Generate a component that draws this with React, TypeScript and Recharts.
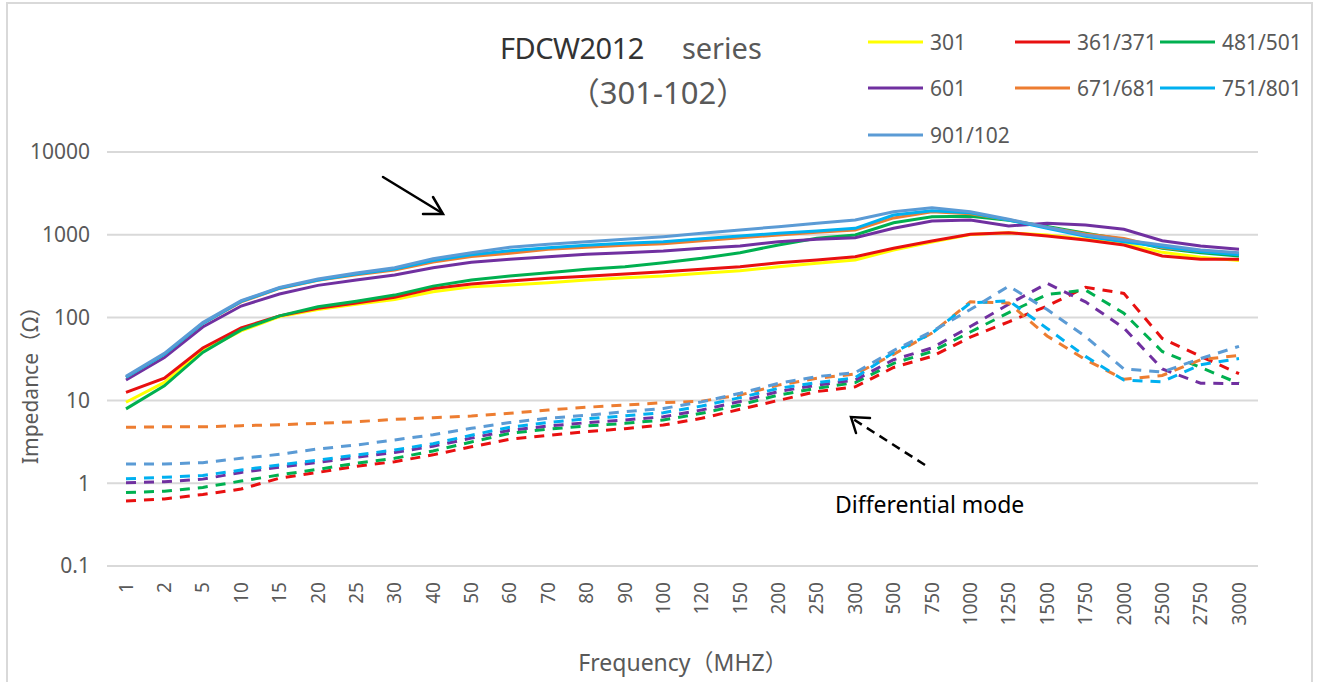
import React from "react";
import { LineChart, Line, XAxis, YAxis, CartesianGrid } from "recharts";

// frequency categories (MHz)
const FREQ = ["1", "2", "5", "10", "15", "20", "25", "30", "40", "50", "60", "70", "80", "90", "100", "120", "150", "200", "250", "300", "500", "750", "1000", "1250", "1500", "1750", "2000", "2500", "2750", "3000"];

const Y_TICKS = [0.1, 1, 10, 100, 1000, 10000];

// common mode (solid)
const CM_301 = [9.5, 16.5, 40, 69, 103, 125, 145, 165, 205, 235, 248, 264, 284, 303, 318, 343, 369, 412, 452, 497, 655, 820, 1010, 1060, 995, 881, 788, 614, 535, 490];
const CM_361 = [12.5, 18.5, 43, 75, 105, 130, 150, 176, 225, 255, 277, 298, 315, 336, 359, 383, 412, 460, 497, 544, 687, 841, 1014, 1061, 968, 865, 753, 555, 506, 505];
const CM_481 = [7.9, 15, 38, 71, 105, 135, 158, 187, 240, 285, 318, 349, 383, 412, 460, 520, 608, 753, 907, 995, 1400, 1655, 1670, 1500, 1260, 1042, 881, 687, 608, 555];
const CM_601 = [17.6, 33, 77, 138, 193, 245, 285, 327, 400, 465, 506, 544, 581, 608, 637, 687, 733, 826, 881, 923, 1198, 1468, 1510, 1277, 1377, 1313, 1165, 849, 733, 668];
const CM_671 = [19, 36, 85, 155, 225, 282, 330, 375, 470, 545, 597, 668, 706, 746, 781, 849, 923, 995, 1071, 1143, 1600, 1900, 1800, 1520, 1230, 1020, 900, 700, 630, 590];
const CM_751 = [19, 36, 85, 157, 228, 285, 335, 385, 490, 574, 643, 698, 746, 788, 826, 897, 968, 1042, 1111, 1198, 1733, 1954, 1850, 1510, 1200, 963, 826, 719, 628, 574];
const CM_901 = [19.5, 37, 87, 160, 232, 292, 345, 400, 515, 608, 706, 767, 826, 881, 948, 1042, 1143, 1253, 1377, 1510, 1900, 2128, 1900, 1540, 1231, 995, 865, 753, 655, 608];

// differential mode (dashed)
const DM_361 = [0.61, 0.645, 0.73, 0.85, 1.15, 1.35, 1.6, 1.82, 2.2, 2.75, 3.4, 3.79, 4.19, 4.56, 5.04, 6.08, 7.8, 10, 12.8, 14.6, 25, 34, 58, 89, 138, 232, 196, 56, 34, 21];
const DM_481 = [0.77, 0.8, 0.89, 1.06, 1.26, 1.47, 1.74, 2.0, 2.45, 3.15, 4.0, 4.5, 4.91, 5.28, 5.8, 6.98, 8.8, 11.6, 14, 16.4, 28, 39, 67, 115, 190, 215, 113, 39, 25, 16];
const DM_601 = [1.01, 1.04, 1.12, 1.35, 1.56, 1.79, 2.05, 2.35, 2.8, 3.5, 4.35, 4.91, 5.38, 5.8, 6.34, 7.66, 9.7, 12.8, 15.3, 17.6, 31, 43, 78, 145, 259, 155, 75, 24, 16.1, 16];
const DM_671 = [4.73, 4.8, 4.8, 4.95, 5.09, 5.28, 5.53, 5.9, 6.18, 6.48, 6.98, 7.66, 8.26, 8.79, 9.38, 9.8, 11.6, 15.3, 18.5, 20.8, 36, 65, 155, 150, 60, 31, 18, 20, 31, 35];
const DM_751 = [1.13, 1.18, 1.24, 1.44, 1.66, 1.9, 2.19, 2.52, 3.0, 3.8, 4.75, 5.4, 6.0, 6.5, 7.1, 8.55, 10.8, 14, 16.4, 18.8, 38, 65, 150, 160, 74, 34, 17.6, 16.8, 27, 32];
const DM_901 = [1.71, 1.71, 1.77, 2.0, 2.23, 2.59, 2.89, 3.33, 3.85, 4.6, 5.4, 6.1, 6.6, 7.3, 8.0, 9.6, 12.2, 16.1, 19.4, 21.6, 40, 68, 125, 240, 125, 59, 24, 22, 32, 45];

const SERIES = [
  { key: "301", name: "301", color: "#FFFF00", cm: CM_301, dm: null },
  { key: "361", name: "361/371", color: "#E81010", cm: CM_361, dm: DM_361 },
  { key: "481", name: "481/501", color: "#00B050", cm: CM_481, dm: DM_481 },
  { key: "601", name: "601", color: "#7030A0", cm: CM_601, dm: DM_601 },
  { key: "671", name: "671/681", color: "#ED7D31", cm: CM_671, dm: DM_671 },
  { key: "751", name: "751/801", color: "#00B0F0", cm: CM_751, dm: DM_751 },
  { key: "901", name: "901/102", color: "#5B9BD5", cm: CM_901, dm: DM_901 },
];

const data = FREQ.map((f, i) => {
  const row: Record<string, any> = { f };
  SERIES.forEach((s) => {
    row["cm" + s.key] = s.cm[i];
    if (s.dm) row["dm" + s.key] = s.dm[i];
  });
  return row;
});

const FONT = "'Noto Sans', 'Noto Sans CJK SC', sans-serif";
const GREY = "#595959";

const XTick = (props: any) => {
  const { x, y, payload } = props;
  return (
    <text
      x={x}
      y={y}
      transform={`rotate(-90 ${x} ${y})`}
      textAnchor="end"
      dy="0.35em"
      fill={GREY}
      fontSize={19}
      fontFamily={FONT}
    >
      {payload.value}
    </text>
  );
};

const LEGEND_X = [868, 1015, 1160];
const LEGEND_Y = [42, 88, 135];

export default function App() {
  return (
    <div style={{ position: "absolute", left: 0, top: 0, width: 1323, height: 682, background: "#fff", overflow: "hidden" }}>
      <LineChart
        width={1323}
        height={682}
        data={data}
        margin={{ top: 152, right: 65, left: 0, bottom: 36 }}
      >
        <CartesianGrid vertical={false} stroke="#d9d9d9" strokeWidth={2} />
        <XAxis
          dataKey="f"
          interval={0}
          padding={{ left: 19, right: 19 }}
          axisLine={false}
          tickLine={false}
          tickSize={0}
          tickMargin={16}
          height={80}
          tick={<XTick />}
        />
        <YAxis
          type="number"
          scale="log"
          domain={[0.1, 10000]}
          ticks={Y_TICKS}
          allowDataOverflow
          width={107}
          axisLine={false}
          tickLine={false}
          tickSize={0}
          tickMargin={17}
          tick={{ fill: GREY, fontSize: 21, fontFamily: FONT }}
        />
        {SERIES.filter((s) => s.dm).map((s) => (
          <Line
            key={"dm" + s.key}
            type="linear"
            dataKey={"dm" + s.key}
            stroke={s.color}
            strokeWidth={3}
            strokeDasharray="10 8"
            dot={false}
            isAnimationActive={false}
          />
        ))}
        {SERIES.map((s) => (
          <Line
            key={"cm" + s.key}
            type="linear"
            dataKey={"cm" + s.key}
            stroke={s.color}
            strokeWidth={3}
            dot={false}
            isAnimationActive={false}
          />
        ))}
      </LineChart>

      <svg
        width={1323}
        height={682}
        style={{ position: "absolute", left: 0, top: 0, pointerEvents: "none" }}
        fontFamily={FONT}
      >
        {/* chart border */}
        <rect x={7} y={3} width={1305} height={700} fill="none" stroke="#d9d9d9" strokeWidth={2} />

        {/* title */}
        <text x={500} y={59} fontSize={29}>
          <tspan fill="#333" letterSpacing={-0.5}>FDCW2012</tspan>
          <tspan fill={GREY} dx={38}>series</tspan>
        </text>
        <text x={658} y={104} fontSize={31} fill={GREY} textAnchor="middle">
          （301-102）
        </text>

        {/* legend */}
        {SERIES.map((s, i) => {
          const lx = LEGEND_X[i % 3];
          const ly = LEGEND_Y[Math.floor(i / 3)];
          return (
            <g key={s.key}>
              <line x1={lx} y1={ly} x2={lx + 55} y2={ly} stroke={s.color} strokeWidth={3} />
              <text x={lx + 62} y={ly + 7.5} fontSize={21} fill={GREY}>
                {s.name}
              </text>
            </g>
          );
        })}

        {/* axis titles */}
        <text x={38} y={380} transform="rotate(-90 38 380)" textAnchor="middle" fontSize={21} fill={GREY}>
          Impedance（Ω）
        </text>
        <text x={683} y={671} textAnchor="middle" fontSize={23} fill={GREY}>
          Frequency（MHZ）
        </text>

        {/* common mode arrow */}
        <g stroke="#000" strokeWidth={2.5} fill="none" strokeLinecap="round">
          <line x1={383} y1={177} x2={442} y2={213} />
          <polyline points="433,197 443,214 423,214" />
        </g>

        {/* differential mode arrow */}
        <g stroke="#000" strokeWidth={2.5} fill="none">
          <line x1={925} y1={465} x2={853} y2={419} strokeDasharray="9 6" />
          <polyline points="870,418 851,417 856,433" strokeLinecap="round" />
        </g>
        <text x={835} y={513} fontSize={23} fill="#000">
          Differential mode
        </text>
      </svg>
    </div>
  );
}
